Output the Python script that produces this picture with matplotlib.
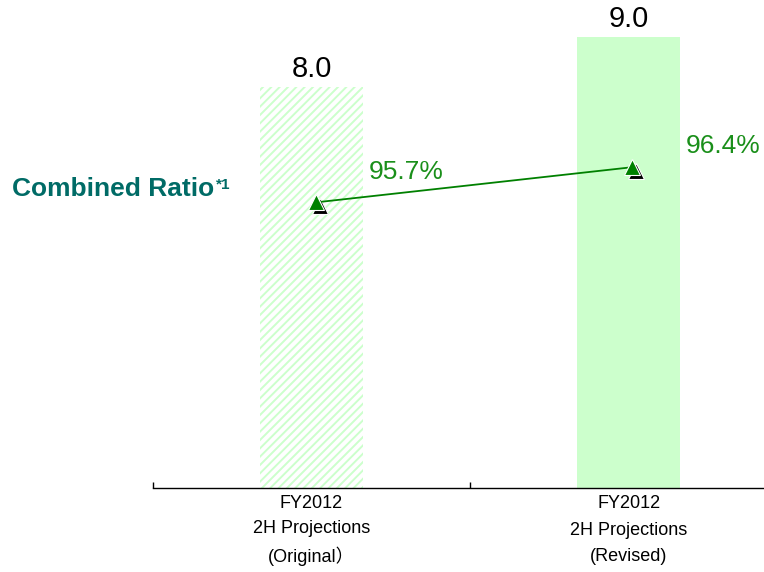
import matplotlib
matplotlib.use("Agg")
import matplotlib.pyplot as plt
import matplotlib.transforms as mtransforms

plt.rcParams['font.family'] = ['Liberation Sans', 'Noto Sans CJK JP', 'DejaVu Sans']
plt.rcParams['hatch.linewidth'] = 1.4

categories = ["FY2012\n2H Projections\n(Original\uff09", "FY2012\n2H Projections\n(Revised)"]
bar_values = [8.0, 9.0]
ratio_values = [95.7, 96.4]
ratio_labels = ["95.7%", "96.4%"]

bar_color = '#ccffcc'
line_color = '#008000'
text_green = '#1a8f1a'
title_color = '#006b66'

fig = plt.figure(figsize=(7.64, 5.72), dpi=100)
ax = fig.add_axes([0.2003, 0.1469, 0.83, 0.7885])

x = list(range(len(categories)))
bars = ax.bar(x, bar_values, width=0.325, color=['white', bar_color], linewidth=0)
bars[0].set_hatch('////')
bars[0].set_edgecolor(bar_color)

for xi, v in zip(x, bar_values):
    ax.annotate(f"{v:.1f}", (xi, v), xytext=(0, 3), textcoords='offset points',
                ha='center', va='bottom', fontsize=21, color='black')

ax.set_xlim(-0.5, 1.5)
ax.set_ylim(0, 9)
for s in ['left', 'right', 'top']:
    ax.spines[s].set_visible(False)
ax.spines['bottom'].set_linewidth(1.0)
ax.set_yticks([])
ax.set_xticks(x)
ax.set_xticklabels(categories, fontsize=13, linespacing=1.75)
ax.get_xticklabels()[0].set_linespacing(1.63)
ax.tick_params(axis='x', which='major', length=0, pad=5)
ax.set_xticks([-0.5, 0.5, 1.5], minor=True)
ax.tick_params(axis='x', which='minor', direction='in', length=4.5, width=1.0)

ax2 = ax.twinx()
ax2.set_ylim(90, 99)
ax2.set_yticks([])
for s in ax2.spines.values():
    s.set_visible(False)

xr = [0.015, 1.01]
shadow = mtransforms.offset_copy(ax2.transData, fig=fig, x=4.0, y=-3.5, units='dots')
ax2.plot(xr, ratio_values, linestyle='none', marker='^', markersize=12,
         markerfacecolor='black', markeredgecolor='white', markeredgewidth=0.8,
         transform=shadow, zorder=3)
ax2.plot(xr, ratio_values, color=line_color, linewidth=1.3, marker='^', markersize=12,
         markerfacecolor=line_color, markeredgecolor='white', markeredgewidth=0.8,
         zorder=4)

ax2.annotate(ratio_labels[0], (xr[0], ratio_values[0]), xytext=(65, 22),
             textcoords='offset points', ha='center', va='center',
             fontsize=19, color=text_green)
ax2.annotate(ratio_labels[1], (xr[1], ratio_values[1]), xytext=(66, 15),
             textcoords='offset points', ha='center', va='center',
             fontsize=19, color=text_green)

title = fig.text(12 / 764, 1 - 189 / 572, "Combined Ratio", fontsize=19, fontweight='bold',
                 color=title_color, ha='left', va='center')
ax.annotate("*1", xy=(1.0, 0.95), xycoords=title, xytext=(1, 0),
            textcoords='offset points', ha='left', va='top',
            fontsize=11, fontweight='bold', color=title_color, annotation_clip=False)

fig.savefig("out.png", dpi=100)
